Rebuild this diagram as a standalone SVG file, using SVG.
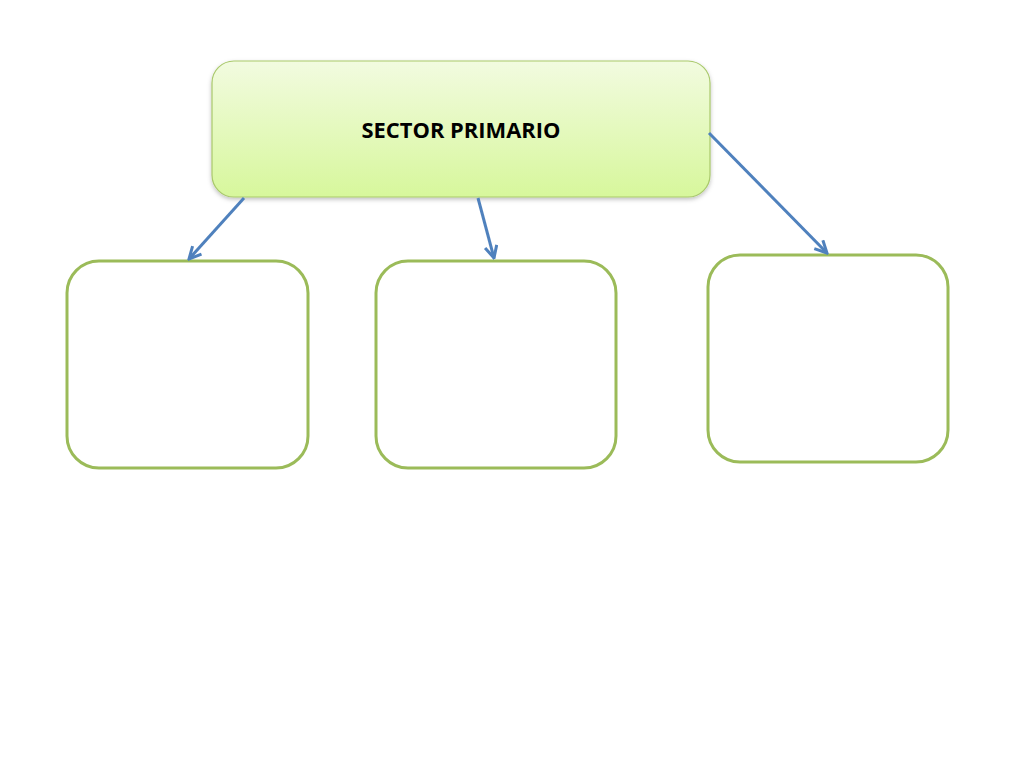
<svg xmlns="http://www.w3.org/2000/svg" width="1024" height="768" viewBox="0 0 1024 768">
<defs>
<linearGradient id="g" x1="0" y1="0" x2="0" y2="1">
<stop offset="0" stop-color="#f2fbe0"/>
<stop offset="1" stop-color="#d7f79c"/>
</linearGradient>
<filter id="sh" x="-10%" y="-10%" width="120%" height="130%">
<feDropShadow dx="0" dy="2" stdDeviation="2" flood-color="#000" flood-opacity="0.25"/>
</filter>
<marker id="ah" viewBox="0 0 10 10" refX="9" refY="5" markerWidth="5" markerHeight="5" orient="auto" markerUnits="strokeWidth">
<path d="M1,1 L9,5 L1,9" fill="none" stroke="#4f81bd" stroke-width="2"/>
</marker>
<style>
.box{fill:#fff;stroke:#9bbb59;stroke-width:3}
.conn{stroke:#4f81bd;stroke-width:3;fill:none;marker-end:url(#ah)}
.lbl{font-family:"Open Sans","Liberation Sans",sans-serif;font-weight:bold;font-size:21px;fill:#000}
</style>
</defs>
<rect width="1024" height="768" fill="#fff"/>
<g id="top">
<rect x="212" y="61" width="498" height="136" rx="22" fill="url(#g)" stroke="#a9c96b" stroke-width="1.2" filter="url(#sh)"/>
<text class="lbl" x="461" y="138" text-anchor="middle" textLength="199" lengthAdjust="spacingAndGlyphs">SECTOR PRIMARIO</text>
</g>
<g id="box1"><rect class="box" x="67" y="261" width="241" height="207" rx="32"/></g>
<g id="box2"><rect class="box" x="376" y="261" width="240" height="207" rx="32"/></g>
<g id="box3"><rect class="box" x="708" y="255" width="240" height="207" rx="32"/></g>
<g id="connectors">
<line class="conn" x1="244" y1="198" x2="189" y2="259"/>
<line class="conn" x1="478" y1="198" x2="494" y2="258"/>
<line class="conn" x1="709" y1="133" x2="827" y2="253"/>
</g>
</svg>
